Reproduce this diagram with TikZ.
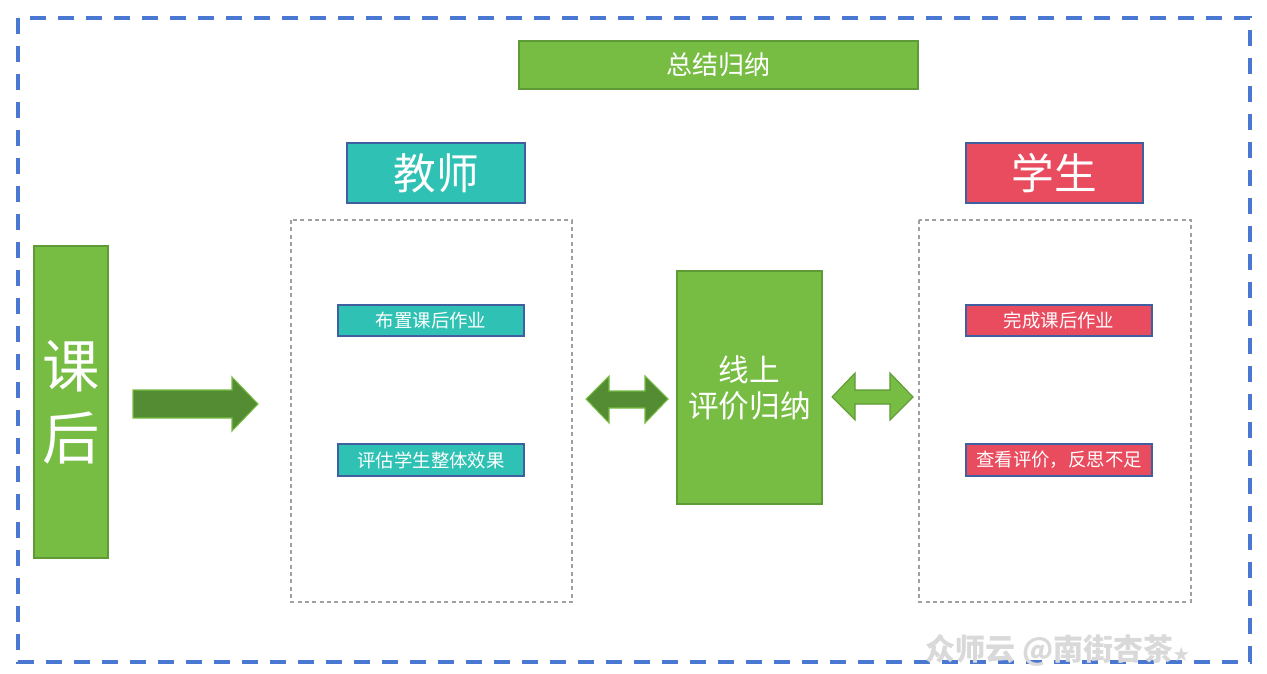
\documentclass[tikz,border=0pt]{standalone}
\usepackage{fontspec}
\setmainfont{Noto Sans CJK SC}
\newfontfamily\cjk{Noto Sans CJK SC}
\definecolor{frameblue}{HTML}{4A78D0}
\definecolor{gbox}{HTML}{77BC43}
\definecolor{gedge}{HTML}{5E9A36}
\definecolor{darkg}{HTML}{548C33}
\definecolor{teal}{HTML}{2EC1B4}
\definecolor{redb}{HTML}{E84C5E}
\definecolor{bedge}{HTML}{3F5FA0}
\definecolor{dgray}{HTML}{A0A0A0}
\begin{document}
\begin{tikzpicture}[x=0.75pt,y=-0.75pt,
  fillbox/.style={draw, line width=0.9pt, inner sep=0pt, text=white, align=center},
  greenbox/.style={fillbox, fill=gbox, draw=gedge},
  teachbox/.style={fillbox, fill=teal, draw=bedge},
  studbox/.style={fillbox, fill=redb, draw=bedge},
  groupbox/.style={draw=dgray, dashed, line width=0.8pt, dash pattern=on 3pt off 2.5pt},
  blockarrow/.style={line width=0.8pt, draw=gbox}
]
\useasboundingbox (0,0) rectangle (1267,674);
% outer frame
\draw[frameblue, line width=2.4pt, dash pattern=on 12pt off 9pt] (18,18) rectangle (1250,662);
% title
\node[greenbox, minimum width=399*0.75pt, minimum height=48*0.75pt, font=\fontsize{19.5pt}{22pt}\selectfont] (sum) at (718.5,65) {总结归纳};
% headers
\node[teachbox, minimum width=178*0.75pt, minimum height=60*0.75pt, font=\fontsize{32pt}{36pt}\selectfont] (teacher) at (436,173) {教师};
\node[studbox, minimum width=177*0.75pt, minimum height=60*0.75pt, font=\fontsize{32pt}{36pt}\selectfont] (student) at (1054.5,173) {学生};
% group boxes
\draw[groupbox] (291,220) rectangle (572,602);
\draw[groupbox] (919,220) rectangle (1191,602);
% left vertical
\node[greenbox, minimum width=74*0.75pt, minimum height=312*0.75pt, font=\fontsize{43pt}{54pt}\selectfont] (after) at (71,402) {课\\后};
% center
\node[greenbox, minimum width=145*0.75pt, minimum height=233*0.75pt, font=\fontsize{23pt}{27pt}\selectfont] (online) at (749.5,387.5) {线上\\评价归纳};
% small boxes
\node[teachbox, minimum width=186*0.75pt, minimum height=31*0.75pt, font=\fontsize{13.8pt}{16pt}\selectfont] (t1) at (431,320.5) {布置课后作业};
\node[teachbox, minimum width=186*0.75pt, minimum height=32*0.75pt, font=\fontsize{13.8pt}{16pt}\selectfont] (t2) at (431,460) {评估学生整体效果};
\node[studbox, minimum width=186*0.75pt, minimum height=31*0.75pt, font=\fontsize{13.8pt}{16pt}\selectfont] (s1) at (1059,320.5) {完成课后作业};
\node[studbox, minimum width=186*0.75pt, minimum height=32*0.75pt, font=\fontsize{13.8pt}{16pt}\selectfont] (s2) at (1059,460) {查看评价，反思不足};
% arrows
\draw[blockarrow, fill=darkg] (133,390) -- (232,390) -- (232,377) -- (258,404) -- (232,431) -- (232,418) -- (133,418) -- cycle;
\draw[blockarrow, fill=darkg] (586,399) -- (609,376) -- (609,391) -- (645,391) -- (645,376) -- (668,399) -- (645,423) -- (645,408) -- (609,408) -- (609,423) -- cycle;
\draw[line width=0.8pt, draw=gedge, fill=gbox] (832,397) -- (855,373) -- (855,390) -- (890,390) -- (890,373) -- (913,397) -- (890,420) -- (890,404) -- (855,404) -- (855,420) -- cycle;
% watermark
\node[text=black!15, font=\fontsize{22.5pt}{24pt}\selectfont\bfseries, anchor=west, inner sep=0pt] (wm) at (925,650) {众师云 @南街杏茶{\fontsize{12pt}{12pt}\selectfont ★}};
\end{tikzpicture}
\end{document}
